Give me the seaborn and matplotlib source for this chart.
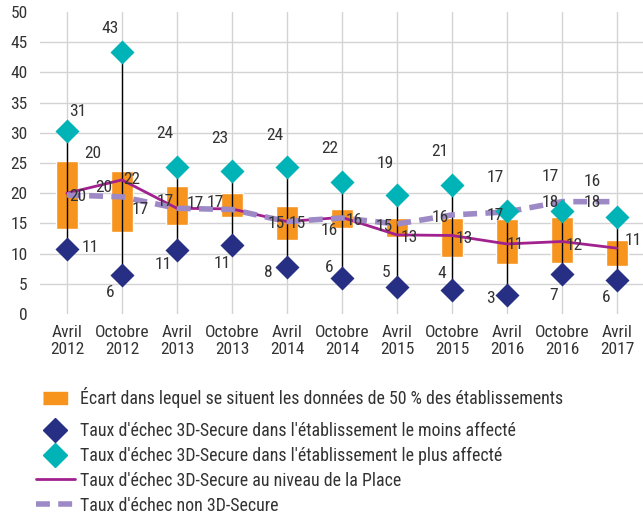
import matplotlib
matplotlib.use("Agg")
import matplotlib.pyplot as plt
from matplotlib.lines import Line2D
import seaborn as sns
import numpy as np
import pandas as pd

# data
periods = ["Avril\n2012", "Octobre\n2012", "Avril\n2013", "Octobre\n2013", "Avril\n2014",
           "Octobre\n2014", "Avril\n2015", "Octobre\n2015", "Avril\n2016", "Octobre\n2016",
           "Avril\n2017"]
q_low = [14.0, 13.6, 14.8, 16.0, 12.3, 14.3, 12.8, 9.5, 8.2, 8.4, 8.0]
q_high = [25.4, 23.7, 21.2, 20.1, 17.9, 17.4, 15.9, 15.9, 15.8, 16.1, 12.3]
min_rate = [10.7, 6.5, 10.6, 11.4, 7.7, 5.9, 4.5, 4.0, 3.1, 6.7, 5.6]
max_rate = [30.3, 43.4, 24.4, 23.6, 24.3, 21.9, 19.7, 21.4, 17.1, 17.1, 16.1]
place_rate = [20.0, 22.2, 17.5, 17.4, 15.3, 16.0, 13.1, 13.0, 11.6, 12.0, 10.9]
non3ds_rate = [19.7, 19.4, 17.5, 17.3, 15.3, 15.9, 14.9, 16.4, 16.9, 18.6, 18.6]

min_labels = ["11", "6", "11", "11", "8", "6", "5", "4", "3", "7", "6"]
max_labels = ["31", "43", "24", "23", "24", "22", "19", "21", "17", "17", "16"]
place_labels = ["20", "22", "17", "17", "15", "16", "13", "13", "11", "12", "11"]
non3ds_labels = ["20", "20", "17", "17", "15", "16", "15", "16", "17", "18", "18"]

# label offsets in pixels (dx, dy up)
min_off = [(23, 2), (-12, -18), (-14, -15), (-10, -18), (-19, -5), (-13, 11), (-11, 14),
           (-10, 16), (-17, -3), (-8, -22), (-11, -17)]
max_off = [(11, 19), (-12, 23), (-12, 33), (-12, 33), (-12, 32), (-12, 33), (-12, 32),
           (-12, 33), (-12, 33), (-12, 34), (-25, 35)]
place_off = [(26, 40), (10, 0), (-12, 7), (-17, 6), (10, -2), (12, -3), (12, -3),
             (12, -3), (8, -1), (12, -4), (16, 8)]
non3ds_off = [(11, -1), (-18, 9), (-37, -1), (-37, 6), (-11, -2), (-13, -13), (-13, -2),
              (-12, -3), (-12, -4), (-12, -1), (-25, -1)]

ORANGE = "#F7941D"
NAVY = "#262F84"
CYAN = "#00B3B7"
PURPLE = "#A1218F"
LAVENDER = "#9C89C6"
TXT = "#333333"
FS = 12.5

sns.set_style("white")
plt.rcParams["font.family"] = ["Roboto Condensed", "DejaVu Sans"]
plt.rcParams["font.size"] = FS

df = pd.DataFrame({"x": np.arange(len(periods)), "low": q_low, "high": q_high,
                   "min": min_rate, "max": max_rate, "place": place_rate,
                   "non3ds": non3ds_rate})

fig = plt.figure(figsize=(6.43, 5.13), dpi=100)
ax = fig.add_axes([40 / 643, 1 - 314 / 513, 605 / 643, 302 / 513])

ax.bar(df["x"], df["high"] - df["low"], bottom=df["low"], width=0.4, color=ORANGE, zorder=2)
ax.vlines(df["x"], df["min"], df["max"], color="black", lw=1, zorder=3)
sns.lineplot(data=df, x="x", y="place", color=PURPLE, lw=2, ax=ax, zorder=4)
sns.lineplot(data=df, x="x", y="non3ds", color=LAVENDER, lw=4, ax=ax, zorder=4,
             dashes=False, linestyle=(0, (2.5, 1.5)))
sns.scatterplot(data=df, x="x", y="min", marker="D", s=150, color=NAVY, linewidth=0,
                ax=ax, zorder=5)
sns.scatterplot(data=df, x="x", y="max", marker="D", s=150, color=CYAN, linewidth=0,
                ax=ax, zorder=5)

for col, labels, offs in [("min", min_labels, min_off), ("max", max_labels, max_off),
                          ("place", place_labels, place_off),
                          ("non3ds", non3ds_labels, non3ds_off)]:
    for i, (lab, off) in enumerate(zip(labels, offs)):
        ax.annotate(lab, (df["x"][i], df[col][i]), xytext=off, textcoords="offset pixels",
                    ha="center", va="center", color=TXT, fontsize=FS, zorder=6,
                    annotation_clip=False)

ax.set_xlim(-0.49, 10.51)
ax.set_ylim(0, 50)
ax.set_yticks(range(0, 51, 5))
ax.set_xticks(df["x"])
ax.set_xticklabels(periods, color=TXT, fontsize=FS, linespacing=1.15)
ax.tick_params(axis="y", colors=TXT, labelsize=FS, length=0, pad=9)
ax.tick_params(axis="x", length=0, pad=8)
ax.set_xlabel("")
ax.set_ylabel("")
ax.grid(True, color="#d3d3d3", lw=1, zorder=0)
gl = ax.get_ygridlines()
gl[0].set_visible(False)
gl[-1].set_visible(False)
ax.set_axisbelow(True)
for s in ax.spines.values():
    s.set_visible(False)

# legend: first entry on its own, the rest evenly spaced below
rect = [(-1, -0.48), (1, -0.48), (1, 0.48), (-1, 0.48)]
h_box = [Line2D([], [], marker=rect, ls="none", color=ORANGE, markersize=17)]
n_box = ["Écart dans lequel se situent les données de 50 % des établissements"]
h_rest = [
    Line2D([], [], marker="D", ls="none", color=NAVY, markersize=12),
    Line2D([], [], marker="D", ls="none", color=CYAN, markersize=12),
    Line2D([], [], color=PURPLE, lw=2),
    Line2D([], [], color=LAVENDER, lw=4, linestyle=(0, (2.5, 1.5))),
]
n_rest = [
    "Taux d'échec 3D-Secure dans l'établissement le moins affecté",
    "Taux d'échec 3D-Secure dans l'établissement le plus affecté",
    "Taux d'échec 3D-Secure au niveau de la Place",
    "Taux d'échec non 3D-Secure",
]
common = dict(loc="upper left", frameon=False, fontsize=12.9, handlelength=2.15,
              handletextpad=0.33, borderaxespad=0, borderpad=0)
leg1 = fig.legend(h_box, n_box, bbox_to_anchor=(36 / 643, 1 - 387 / 513), **common)
leg2 = fig.legend(h_rest, n_rest, bbox_to_anchor=(36 / 643, 1 - 422 / 513),
                  labelspacing=0.38, **common)
for leg in (leg1, leg2):
    for t in leg.get_texts():
        t.set_color(TXT)

fig.savefig("out.png", dpi=100)
